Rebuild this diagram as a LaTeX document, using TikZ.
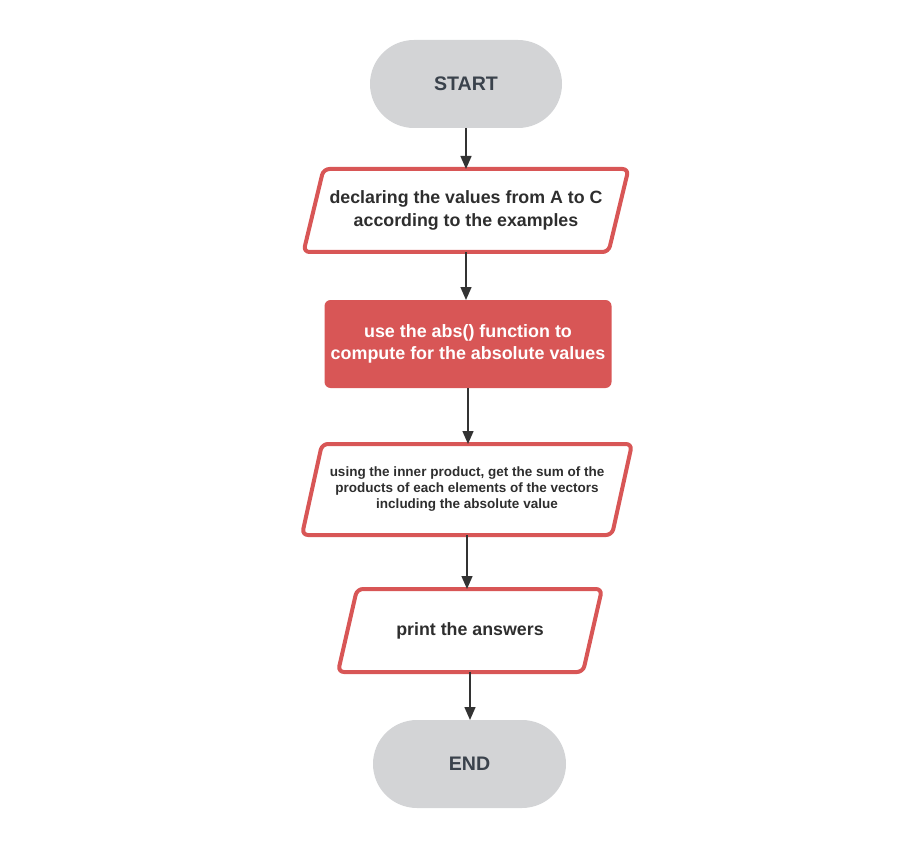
\documentclass[tikz,border=0pt]{standalone}
\usepackage{fontspec}
\setmainfont{Liberation Sans}
\usetikzlibrary{arrows.meta}
\definecolor{termgray}{HTML}{D3D4D6}
\definecolor{termtext}{HTML}{3A424C}
\definecolor{flowred}{HTML}{D85656}
\definecolor{bodytext}{HTML}{2E2E2E}
\definecolor{arrowc}{HTML}{333333}
\tikzset{
  terminal/.style={rectangle, rounded corners=44pt, fill=termgray, minimum width=192pt, minimum height=88pt,
    font=\bfseries\fontsize{19.6}{22}\selectfont, text=termtext, inner sep=0pt, outer sep=0pt},
  iobox/.style={rectangle, minimum height=79pt, align=center, inner sep=0pt, outer sep=2pt,
    font=\bfseries\fontsize{17.8}{22.5}\selectfont, text=bodytext},
  pgline/.style={draw=flowred, line width=4pt, rounded corners=6pt, line join=round},
  procbox/.style={rectangle, rounded corners=6pt, fill=flowred, minimum width=287pt, minimum height=88pt,
    align=center, text=white, font=\bfseries\fontsize{17.9}{21.5}\selectfont, inner sep=0pt, outer sep=0pt},
  flow/.style={draw=arrowc, line width=1.4pt, -{Triangle[length=13pt,width=11pt]}}
}
\newcommand\drawpgram[2]{%
  \draw[pgline] ([xshift=#2]#1.north west) -- (#1.north east) -- ([xshift=-#2]#1.south east) -- (#1.south west) -- cycle;}
\begin{document}
\begin{tikzpicture}[x=1pt,y=-1pt]
\useasboundingbox (0,0) rectangle (898,856);
\node[terminal] (start) at (466,84) {START};
\node[iobox, minimum width=321pt] (p1) at (466,210.5) {declaring the values from A to C\\according to the examples};
\node[procbox] (proc) at (468,344) {use the abs() function to\\compute for the absolute values};
\node[iobox, minimum width=326pt, minimum height=87pt, font=\bfseries\fontsize{13.5}{16}\selectfont] (p3) at (467,489.5) {using the inner product, get the sum of the\\products of each elements of the vectors\\including the absolute value};
\node[iobox, minimum width=260pt] (p4) at (470,630.5) {print the answers};
\node[terminal, minimum width=193pt] (end) at (469.5,764) {END};
\drawpgram{p1}{20pt}
\drawpgram{p3}{20pt}
\drawpgram{p4}{19pt}
\draw[flow] (start.south) -- (start.south |- p1.north);
\draw[flow] (p1.south) -- (p1.south |- proc.north);
\draw[flow] (proc.south) -- (proc.south |- p3.north);
\draw[flow] (p3.south) -- (p3.south |- p4.north);
\draw[flow] (p4.south) -- (p4.south |- end.north);
\end{tikzpicture}
\end{document}
